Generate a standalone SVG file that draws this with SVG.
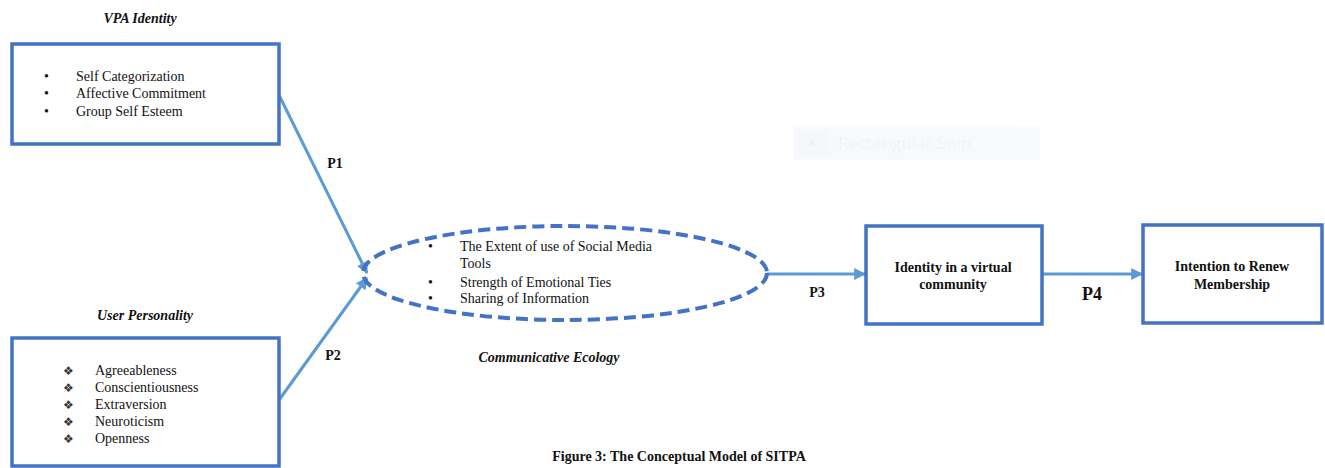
<svg xmlns="http://www.w3.org/2000/svg" width="1325" height="468" viewBox="0 0 1325 468">
<defs>
<style>
.box{fill:#fff;stroke:#4472C4;stroke-width:3.5}
.ell{fill:none;stroke:#4472C4;stroke-width:4;stroke-dasharray:12 6}
.conn{stroke:#5B9BD5;stroke-width:3;fill:none}
.t{font-family:"Liberation Serif","Times New Roman",serif;font-size:14px;fill:#111}
.b{font-weight:bold}
.bi{font-weight:bold;font-style:italic}
.big{font-size:18px}
.dia{font-family:"DejaVu Sans",sans-serif;font-size:12px;fill:#333}
</style>
<marker id="ah" viewBox="0 0 10 10" refX="9" refY="5" markerWidth="4" markerHeight="4" orient="auto" markerUnits="strokeWidth">
<path d="M0,0 L10,5 L0,10 z" fill="#5B9BD5"/>
</marker>
</defs>
<rect width="1325" height="468" fill="#fff"/>
<g id="snip" opacity="0.5">
<rect x="793" y="126" width="247" height="34" fill="#f3f5fa"/>
<rect x="797" y="130" width="32" height="26" fill="#eef1f7"/>
<circle cx="812" cy="143" r="3" fill="#e3e6ee"/>
<text x="838" y="149" font-family="'Open Sans',sans-serif" font-size="17" fill="#e6e9f0">Rectangular Snip</text>
</g>
<g id="connectors">
<line class="conn" x1="279" y1="95" x2="367" y2="273" marker-end="url(#ah)"/>
<line class="conn" x1="279" y1="400" x2="367" y2="278" marker-end="url(#ah)"/>
<line class="conn" x1="767" y1="274" x2="865" y2="274" marker-end="url(#ah)"/>
<line class="conn" x1="1042" y1="274" x2="1142" y2="274" marker-end="url(#ah)"/>
<text class="t b" x="335" y="168" text-anchor="middle">P1</text>
<text class="t b" x="333" y="360" text-anchor="middle">P2</text>
<text class="t b" x="817" y="297" text-anchor="middle">P3</text>
<text class="t b big" x="1092" y="300" text-anchor="middle">P4</text>
</g>
<g id="vpa-identity">
<text class="t bi" x="140" y="23" text-anchor="middle">VPA Identity</text>
<rect class="box" x="12" y="44" width="267" height="100"/>
<text class="t" x="44" y="81">•</text>
<text class="t" x="44" y="98">•</text>
<text class="t" x="44" y="116">•</text>
<text class="t" x="76" y="81">Self Categorization</text>
<text class="t" x="76" y="98">Affective Commitment</text>
<text class="t" x="76" y="116">Group Self Esteem</text>
</g>
<g id="user-personality">
<text class="t bi" x="145" y="320" text-anchor="middle">User Personality</text>
<rect class="box" x="12" y="338" width="267" height="128"/>
<text class="dia" x="63" y="375">❖</text>
<text class="dia" x="63" y="392">❖</text>
<text class="dia" x="63" y="409">❖</text>
<text class="dia" x="63" y="426">❖</text>
<text class="dia" x="63" y="443">❖</text>
<text class="t" x="95" y="375">Agreeableness</text>
<text class="t" x="95" y="392">Conscientiousness</text>
<text class="t" x="95" y="409">Extraversion</text>
<text class="t" x="95" y="426">Neuroticism</text>
<text class="t" x="95" y="443">Openness</text>
</g>
<g id="communicative-ecology">
<ellipse class="ell" cx="565" cy="273" rx="202" ry="47"/>
<text class="t" x="428" y="251">•</text>
<text class="t" x="428" y="287">•</text>
<text class="t" x="428" y="303">•</text>
<text class="t" x="460" y="251">The Extent of use of Social Media</text>
<text class="t" x="460" y="268">Tools</text>
<text class="t" x="460" y="287">Strength of Emotional Ties</text>
<text class="t" x="460" y="303">Sharing of Information</text>
<text class="t bi" x="549" y="362" text-anchor="middle">Communicative Ecology</text>
</g>
<g id="identity-virtual-community">
<rect class="box" x="866" y="226" width="176" height="98"/>
<text class="t b" x="953" y="272" text-anchor="middle">Identity in a virtual</text>
<text class="t b" x="953" y="289" text-anchor="middle">community</text>
</g>
<g id="intention-renew">
<rect class="box" x="1143" y="225" width="179" height="98"/>
<text class="t b" x="1232" y="271" text-anchor="middle">Intention to Renew</text>
<text class="t b" x="1232" y="289" text-anchor="middle">Membership</text>
</g>
<text class="t b" x="679" y="461" text-anchor="middle">Figure 3: The Conceptual Model of SITPA</text>
</svg>
